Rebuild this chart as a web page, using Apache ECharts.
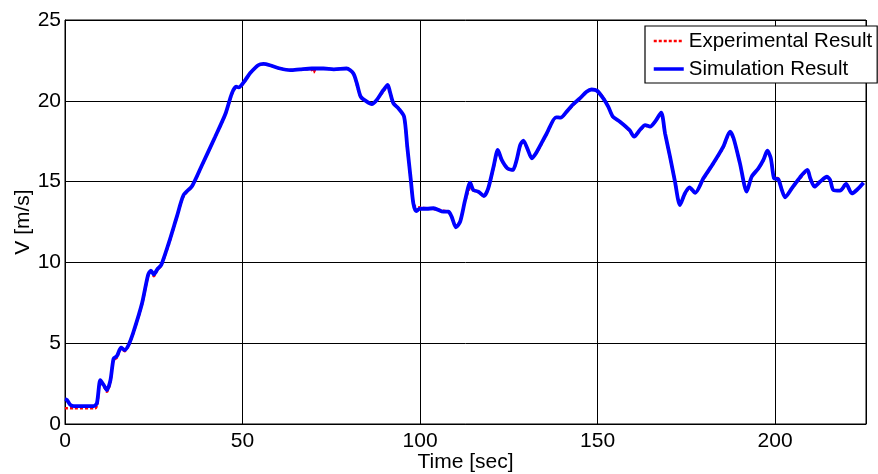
<!DOCTYPE html>
<html>
<head>
<meta charset="utf-8">
<script src="https://cdn.jsdelivr.net/npm/echarts@6/dist/echarts.min.js"></script>
<style>
  html, body { margin: 0; padding: 0; background: #fff; }
  #chart { width: 878px; height: 474px; }
</style>
</head>
<body>
<div id="chart"></div>
<script>
// Vehicle speed over time: measured vs simulated
const simTime = [0, 0.5, 1.5, 2.5, 8.1, 9.0, 9.95, 10.9, 11.8, 12.8, 13.7, 14.6, 15.8, 16.8, 17.9, 19.3, 21.7, 23.4, 24.2, 25.0, 26.1, 27.1, 29.2, 31.5, 33.4, 35.8, 38.6, 42.3, 45.2, 47.0, 48.2, 48.9, 50.8, 52.1, 54.4, 55.9, 57.7, 60.6, 63.4, 66.2, 69.5, 72.8, 75.7, 79.3, 81.2, 82.2, 83.3, 85.0, 86.4, 87.8, 89.7, 90.9, 91.5, 92.5, 93.9, 95.5, 96.4, 97.4, 98.1, 98.9, 100.0, 101.9, 103.8, 106.6, 108.0, 108.9, 110.1, 111.3, 112.7, 114.1, 115.0, 116.4, 118.0, 119.2, 120.7, 121.9, 123.0, 124.6, 126.1, 127.2, 128.2, 129.1, 130.2, 131.5, 132.9, 135.7, 138.3, 139.6, 141.3, 143.2, 145.0, 146.9, 148.3, 149.8, 151.6, 153.0, 154.3, 156.3, 159.0, 160.3, 161.9, 163.4, 164.8, 166.2, 167.9, 169.0, 170.4, 171.8, 173.2, 174.6, 175.9, 177.5, 179.8, 182.6, 185.4, 187.3, 188.3, 190.1, 192.0, 193.4, 195.3, 196.7, 197.8, 198.8, 199.7, 200.9, 201.9, 202.8, 204.7, 207.0, 209.1, 209.9, 211.1, 212.7, 214.6, 215.5, 216.4, 218.3, 220.0, 221.6, 223.0, 224.9];
const simSpeed = [1.55, 1.5, 1.18, 1.1, 1.1, 1.3, 2.72, 2.41, 2.1, 2.72, 4.06, 4.2, 4.72, 4.58, 4.89, 5.71, 7.47, 9.22, 9.49, 9.26, 9.61, 9.84, 11.18, 12.83, 14.17, 14.73, 16.03, 17.78, 19.2, 20.46, 20.87, 20.83, 21.29, 21.7, 22.2, 22.28, 22.2, 22.0, 21.9, 21.95, 22.0, 22.0, 21.95, 22.0, 21.7, 21.08, 20.25, 19.95, 19.8, 20.05, 20.67, 20.98, 20.57, 19.84, 19.53, 19.02, 17.16, 15.1, 13.66, 13.18, 13.32, 13.32, 13.35, 13.14, 13.14, 12.83, 12.17, 12.52, 13.86, 14.93, 14.48, 14.38, 14.11, 14.58, 15.92, 16.96, 16.34, 15.82, 15.72, 16.34, 17.26, 17.53, 17.06, 16.44, 16.85, 17.99, 18.98, 18.96, 19.33, 19.8, 20.15, 20.56, 20.7, 20.63, 20.15, 19.64, 19.02, 18.71, 18.19, 17.78, 18.19, 18.5, 18.4, 18.71, 19.27, 17.99, 16.54, 15.0, 13.55, 14.27, 14.64, 14.31, 15.2, 16.13, 17.16, 18.09, 17.68, 16.13, 14.38, 15.3, 15.82, 16.34, 16.91, 16.44, 15.2, 15.14, 14.48, 14.03, 14.58, 15.26, 15.72, 15.2, 14.69, 15.0, 15.3, 15.1, 14.48, 14.44, 14.85, 14.27, 14.48, 14.93];

const expTime = [0, 2.5, 8.5, 9.1, 9.9, 10.9, 11.8, 12.8, 13.6, 14.6, 15.8, 16.8, 17.9, 19.3, 21.7, 23.4, 24.2, 25.0, 26.1, 27.1, 29.2, 31.5, 33.4, 35.8, 38.6, 42.3, 45.2, 47.0, 48.2, 48.9, 50.8, 52.1, 54.4, 55.9, 57.7, 60.6, 63.4, 66.2, 69.3, 70.0, 70.7, 72.8, 75.7, 79.3, 81.2, 82.2, 83.3, 85.0, 86.4, 87.8, 89.7, 90.9, 91.5, 92.5, 93.9, 95.5, 96.4, 97.4, 98.1, 98.7, 100.0, 101.9, 103.8, 106.6, 108.0, 108.9, 110.1, 111.3, 112.7, 114.1, 115.0, 116.4, 118.0, 119.2, 120.7, 121.9, 123.0, 124.6, 126.1, 127.2, 128.2, 129.1, 130.2, 131.5, 132.9, 135.7, 138.3, 139.6, 141.3, 143.2, 145.0, 146.9, 148.3, 149.8, 151.6, 153.0, 154.3, 156.3, 159.0, 160.3, 161.9, 163.4, 164.8, 166.2, 167.9, 169.0, 170.4, 171.8, 173.2, 174.6, 175.9, 177.5, 179.8, 182.6, 185.4, 187.3, 188.3, 190.1, 192.0, 193.4, 195.3, 196.7, 197.8, 198.8, 199.7, 200.9, 201.9, 202.8, 204.7, 207.0, 209.1, 209.9, 211.1, 212.7, 214.6, 215.5, 216.4, 218.3, 220.0, 221.6, 223.0, 224.9];
const expSpeed = [0.97, 0.97, 0.97, 1.2, 2.65, 2.35, 2.0, 2.6, 3.95, 4.1, 4.65, 4.5, 4.85, 5.65, 7.4, 9.15, 9.4, 9.15, 9.55, 9.8, 11.1, 12.8, 14.1, 14.7, 16.0, 17.75, 19.15, 20.4, 20.85, 20.8, 21.25, 21.7, 22.2, 22.28, 22.2, 22.0, 21.9, 21.95, 21.95, 21.75, 22.0, 22.0, 21.95, 22.0, 21.7, 21.0, 20.2, 19.95, 19.8, 20.05, 20.6, 20.9, 20.55, 19.9, 19.55, 19.0, 17.1, 15.0, 13.7, 13.45, 13.4, 13.35, 13.3, 13.2, 13.1, 12.8, 12.25, 12.55, 13.8, 14.55, 14.45, 14.35, 14.1, 14.55, 15.85, 16.85, 16.3, 15.8, 15.7, 16.3, 17.2, 17.45, 17.05, 16.45, 16.8, 17.95, 18.95, 18.95, 19.3, 19.75, 20.1, 20.55, 20.7, 20.65, 20.2, 19.65, 19.0, 18.7, 18.15, 17.8, 18.15, 18.45, 18.4, 18.7, 19.2, 17.95, 16.5, 15.05, 13.6, 14.2, 14.6, 14.3, 15.15, 16.1, 17.1, 18.0, 17.65, 16.1, 14.45, 15.3, 15.8, 16.3, 16.85, 16.45, 15.3, 15.2, 14.5, 14.1, 14.55, 15.2, 15.65, 15.25, 14.75, 15.0, 15.25, 15.1, 14.5, 14.45, 14.8, 14.3, 14.5, 14.9];

const xTicks = [0, 50, 100, 150, 200];
const yTicks = [0, 5, 10, 15, 20, 25];
const seriesNames = ['Experimental Result', 'Simulation Result'];

const pairs = (xs, ys) => xs.map((x, i) => [x, ys[i]]);
const font = 'Arial, "Liberation Sans", sans-serif';

const chart = echarts.init(document.getElementById('chart'), null, { renderer: 'canvas' });
chart.setOption({
  animation: false,
  backgroundColor: '#fff',
  grid: {
    left: 65, right: 12, top: 20, bottom: 50,
    containLabel: false,
    outerBoundsMode: 'none',
    show: true, borderColor: '#000', borderWidth: 1, backgroundColor: 'transparent'
  },
  legend: {
    data: [
      { name: seriesNames[0], lineStyle: { width: 2.5 } },
      { name: seriesNames[1], lineStyle: { width: 3.5 } }
    ],
    orient: 'vertical',
    left: 645, top: 26,
    padding: [4, 5, 3, 7],
    itemWidth: 30, itemHeight: 14, itemGap: 6, itemTextGap: 4,
    itemStyle: { opacity: 0 },
    backgroundColor: '#fff',
    borderColor: '#000', borderWidth: 1.2, borderRadius: 0,
    textStyle: { fontFamily: font, fontSize: 20.5, color: '#000', lineHeight: 22 }
  },
  xAxis: {
    type: 'value',
    min: 0, max: 225.6, interval: 50,
    name: 'Time [sec]',
    nameLocation: 'middle', nameGap: 28, nameMoveOverlap: false,
    nameTextStyle: { fontFamily: font, fontSize: 21, color: '#000', verticalAlign: 'top' },
    axisLine: { show: true, lineStyle: { color: '#000', width: 1 } },
    axisTick: { show: true, inside: true, length: 5, lineStyle: { color: '#000' } },
    axisLabel: {
      fontFamily: font, fontSize: 21, color: '#000', margin: 7,
      formatter: v => (xTicks.includes(v) ? String(v) : '')
    },
    splitLine: { show: true, lineStyle: { color: '#000', width: 1 } }
  },
  yAxis: {
    type: 'value',
    min: yTicks[0], max: yTicks[yTicks.length - 1], interval: 5,
    name: 'V [m/s]',
    nameLocation: 'middle', nameGap: 31, nameRotate: 90, nameMoveOverlap: false,
    nameTextStyle: { fontFamily: font, fontSize: 21, color: '#000' },
    axisLine: { show: true, lineStyle: { color: '#000', width: 1 } },
    axisTick: { show: true, inside: true, length: 5, lineStyle: { color: '#000' } },
    axisLabel: { fontFamily: font, fontSize: 21, color: '#000', margin: 4 },
    splitLine: { show: true, lineStyle: { color: '#000', width: 1 } }
  },
  series: [
    {
      name: seriesNames[0],
      type: 'line',
      data: pairs(expTime, expSpeed),
      showSymbol: false, symbol: 'none',
      smooth: 0.25,
      color: '#ff0000',
      lineStyle: { color: '#ff0000', width: 2.5, type: [3, 2] },
      z: 2
    },
    {
      name: seriesNames[1],
      type: 'line',
      data: pairs(simTime, simSpeed),
      showSymbol: false, symbol: 'none',
      smooth: 0.25,
      color: '#0000ff',
      lineStyle: { color: '#0000ff', width: 3.8, type: 'solid' },
      z: 3
    }
  ]
});
</script>
</body>
</html>
